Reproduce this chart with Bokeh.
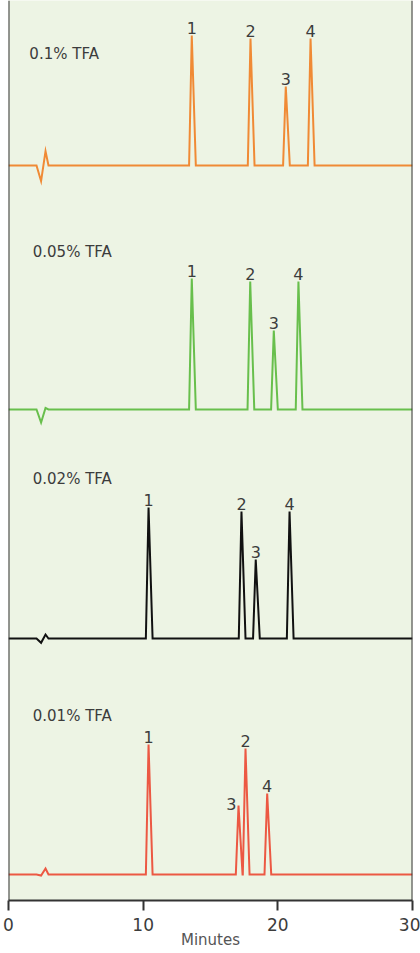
from bokeh.plotting import figure
from bokeh.models import ColumnDataSource, FixedTicker, Span, Range1d
from bokeh.core.properties import value
from bokeh.embed import file_html
from bokeh.resources import INLINE

# ---------------- data ----------------
TICKS = [0, 10, 20, 30]
TICK_LABELS = ["0", "10", "20", "30"]
X_LABEL = "Minutes"

SERIES = ["0.1% TFA", "0.05% TFA", "0.02% TFA", "0.01% TFA"]
COLORS = ["#f08a35", "#68bf4c", "#111111", "#ec5843"]
OFFSETS = [735, 491, 262, 26]          # baseline of each trace (arbitrary signal units)
LABEL_X = [1.55, 1.8, 1.8, 1.8]        # where each series name sits
LABEL_Y = [847, 649, 422, 185]

PEAK_NAMES = ["1", "2", "3", "4"]
# retention times (min)
RT_01 = [13.61, 17.97, 20.59, 22.43]
RT_005 = [13.61, 17.95, 19.70, 21.53]
RT_002 = [10.40, 17.30, 18.36, 20.87]
RT_001 = [10.40, 17.60, 17.08, 19.21]
# peak heights (signal units)
H_01 = [130, 127, 79, 127]
H_005 = [131, 128, 79, 128]
H_002 = [131, 127, 79, 127]
H_001 = [130, 126, 69, 81]

# injection disturbance
INJ_T = [2.08, 2.42, 2.75, 2.97]
INJ_01 = [0, -15.7, 14.3, 0]
INJ_005 = [0, -13.0, 1.5, 0]
INJ_002 = [0, -4.3, 4.0, 0]
INJ_001 = [0, -1.0, 6.0, 0]

PEAK_LEFT = 0.2
PEAK_RIGHT = 0.3

RTS = [RT_01, RT_005, RT_002, RT_001]
HS = [H_01, H_005, H_002, H_001]
INJS = [INJ_01, INJ_005, INJ_002, INJ_001]

XMIN, XMAX = 0, 30
YMIN, YMAX = 0, 900

FONT = "DejaVu Sans"
TEXT_COLOR = "#3c3c3c"

p = figure(width=420, height=953, output_backend="svg", toolbar_location=None,
           x_range=Range1d(XMIN, XMAX), y_range=Range1d(YMIN, YMAX),
           min_border_left=8, min_border_right=8, min_border_top=0,
           min_border_bottom=53)
p.background_fill_color = "#edf4e4"
p.border_fill_color = "white"
p.outline_line_color = None
p.xgrid.visible = False
p.ygrid.visible = False
p.yaxis.visible = False

ax = p.xaxis[0]
ax.ticker = FixedTicker(ticks=TICKS)
ax.major_label_overrides = {t: l for t, l in zip(TICKS, TICK_LABELS)}
ax.axis_label = X_LABEL
ax.axis_line_color = "#333333"
ax.axis_line_width = 2
ax.major_tick_line_color = "#333333"
ax.major_tick_line_width = 2
ax.major_tick_out = 10
ax.major_tick_in = 0
ax.minor_tick_line_color = None
ax.major_label_text_font = FONT
ax.major_label_text_font_size = "17px"
ax.major_label_text_color = TEXT_COLOR
ax.major_label_standoff = 7
ax.axis_label_text_font = FONT
ax.axis_label_text_font_size = "15px"
ax.axis_label_text_font_style = "normal"
ax.axis_label_text_color = "#555555"
ax.axis_label_standoff = -3

for loc in (XMIN, XMAX):
    p.add_layout(Span(location=loc, dimension="height", line_color="#333333", line_width=2))

for name, color, off, rts, hs, inj, lx, ly in zip(SERIES, COLORS, OFFSETS, RTS, HS, INJS, LABEL_X, LABEL_Y):
    xs = [XMIN] + list(INJ_T)
    ys = [off] + [off + d for d in inj]
    order = sorted(range(len(rts)), key=lambda i: rts[i])
    for i in order:
        t, h = rts[i], hs[i]
        xs += [t - PEAK_LEFT, t, t + PEAK_RIGHT]
        ys += [off, off + h, off]
    xs.append(XMAX)
    ys.append(off)
    p.line(xs, ys, line_color=color, line_width=2, line_join="miter")

    # peak labels
    left_mask = [(name == "0.01% TFA" and pn == "3") for pn in PEAK_NAMES]
    top = ColumnDataSource(dict(
        x=[t for t, m in zip(rts, left_mask) if not m],
        y=[off + h for h, m in zip(hs, left_mask) if not m],
        t=[pn for pn, m in zip(PEAK_NAMES, left_mask) if not m]))
    p.text("x", "y", text="t", source=top, text_align="center", text_baseline="bottom",
           y_offset=-2, text_font=value(FONT), text_font_size="16px", text_color=TEXT_COLOR)
    if any(left_mask):
        side = ColumnDataSource(dict(
            x=[t for t, m in zip(rts, left_mask) if m],
            y=[off + h for h, m in zip(hs, left_mask) if m],
            t=[pn for pn, m in zip(PEAK_NAMES, left_mask) if m]))
        p.text("x", "y", text="t", source=side, text_align="right", text_baseline="middle",
               x_offset=-2, y_offset=-2, text_font=value(FONT), text_font_size="16px",
               text_color=TEXT_COLOR)

    # series name
    p.text(x=[lx], y=[ly], text=[name], text_align="left", text_baseline="middle",
           text_font=value(FONT), text_font_size="15px", text_color=TEXT_COLOR)

open("out.html", "w").write(file_html(p, INLINE))
